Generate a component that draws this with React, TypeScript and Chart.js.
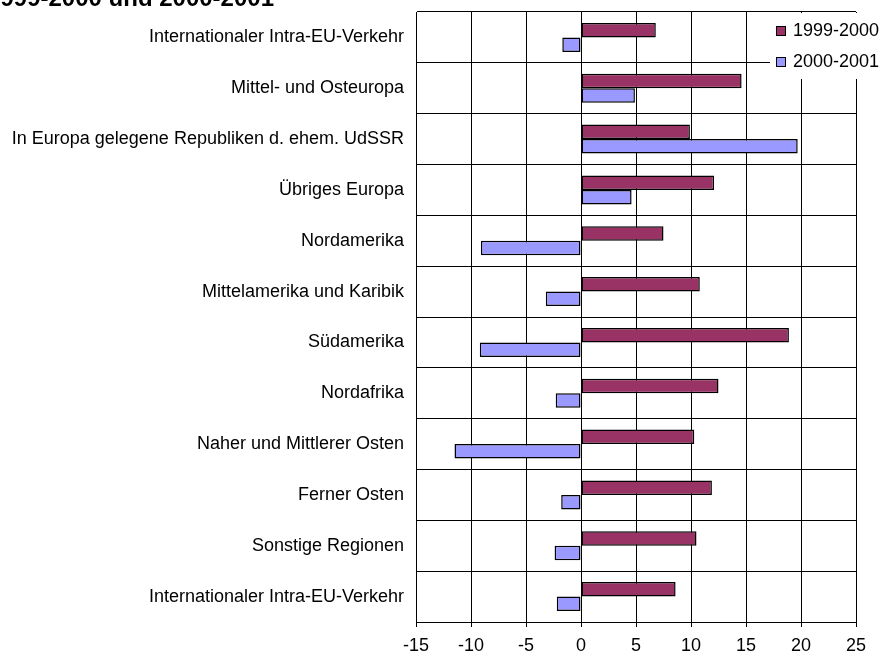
import React, { useEffect, useRef } from "react";
import { Chart, registerables } from "chart.js";

Chart.register(...registerables);

const categories = [
  "Internationaler Intra-EU-Verkehr",
  "Mittel- und Osteuropa",
  "In Europa gelegene Republiken d. ehem. UdSSR",
  "Übriges Europa",
  "Nordamerika",
  "Mittelamerika und Karibik",
  "Südamerika",
  "Nordafrika",
  "Naher und Mittlerer Osten",
  "Ferner Osten",
  "Sonstige Regionen",
  "Internationaler Intra-EU-Verkehr",
];

const series1Label = "1999-2000";
const series2Label = "2000-2001";
const series1 = [6.8, 14.6, 9.9, 12.1, 7.5, 10.8, 18.9, 12.5, 10.3, 11.9, 10.5, 8.6];
const series2 = [-1.7, 4.9, 19.7, 4.6, -9.1, -3.2, -9.2, -2.3, -11.5, -1.8, -2.4, -2.2];

const titleText = "1999-2000 und 2000-2001";
const xMin = -15;
const xMax = 25;
const xStep = 5;

const FONT = "'Liberation Sans', Arial, sans-serif";

export default function App() {
  const ref = useRef<HTMLCanvasElement | null>(null);

  useEffect(() => {
    if (!ref.current) return;
    const overlay = {
      id: "overlay",
      afterDraw(chart: any) {
        const ctx = chart.ctx;
        ctx.save();
        // title (cut off at the top)
        ctx.fillStyle = "#000";
        ctx.font = `bold 24px ${FONT}`;
        ctx.textAlign = "right";
        ctx.textBaseline = "alphabetic";
        ctx.fillText(titleText, 274, 6);
        // legend
        ctx.fillStyle = "#fff";
        ctx.fillRect(770, 13, 125, 66);
        ctx.font = `18px ${FONT}`;
        ctx.textAlign = "left";
        ctx.textBaseline = "middle";
        chart.data.datasets.forEach((ds: any, i: number) => {
          const cy = 31 + i * 31;
          ctx.fillStyle = ds.backgroundColor;
          ctx.fillRect(776, cy - 5, 10, 10);
          ctx.strokeStyle = "#000";
          ctx.lineWidth = 1;
          ctx.strokeRect(776.5, cy - 4.5, 9, 9);
          ctx.fillStyle = "#000";
          ctx.fillText(ds.label, 793, cy);
        });
        ctx.restore();
      },
    };

    const chart = new Chart(ref.current, {
      type: "bar",
      data: {
        labels: categories,
        datasets: [
          {
            label: series1Label,
            data: series1,
            backgroundColor: "#993366",
            borderColor: "#000",
            borderWidth: 1.5,
            borderSkipped: false,
          },
          {
            label: series2Label,
            data: series2,
            backgroundColor: "#9999FF",
            borderColor: "#000",
            borderWidth: 1.5,
            borderSkipped: false,
          },
        ],
      },
      options: {
        indexAxis: "y",
        responsive: false,
        animation: false,
        layout: { padding: { top: 12, right: 39, bottom: 0, left: 0 } },
        datasets: { bar: { barPercentage: 1, categoryPercentage: 0.57 } },
        plugins: {
          legend: { display: false },
          title: { display: false },
          tooltip: { enabled: false },
        },
        scales: {
          x: {
            type: "linear",
            min: xMin,
            max: xMax,
            ticks: {
              stepSize: xStep,
              color: "#000",
              font: { family: FONT, size: 18 },
              padding: 8,
            },
            grid: { color: "#000", lineWidth: 1, tickLength: 5 },
            border: { color: "#000", width: 1 },
            afterFit(scale: any) {
              scale.height = 32;
            },
          },
          y: {
            type: "category",
            ticks: {
              color: "#000",
              font: { family: FONT, size: 18 },
              padding: 12,
              autoSkip: false,
            },
            grid: { color: "#000", lineWidth: 1, drawTicks: false, offset: true },
            border: { color: "#000", width: 1 },
            afterFit(scale: any) {
              scale.width = 416;
              scale.paddingTop = 0;
              scale.paddingBottom = 0;
            },
          },
        },
      },
      plugins: [overlay],
    });
    return () => chart.destroy();
  }, []);

  return (
    <div
      style={{
        position: "fixed",
        left: 0,
        top: 0,
        width: 895,
        height: 654,
        background: "#fff",
      }}
    >
      <canvas ref={ref} width={895} height={654} />
    </div>
  );
}
